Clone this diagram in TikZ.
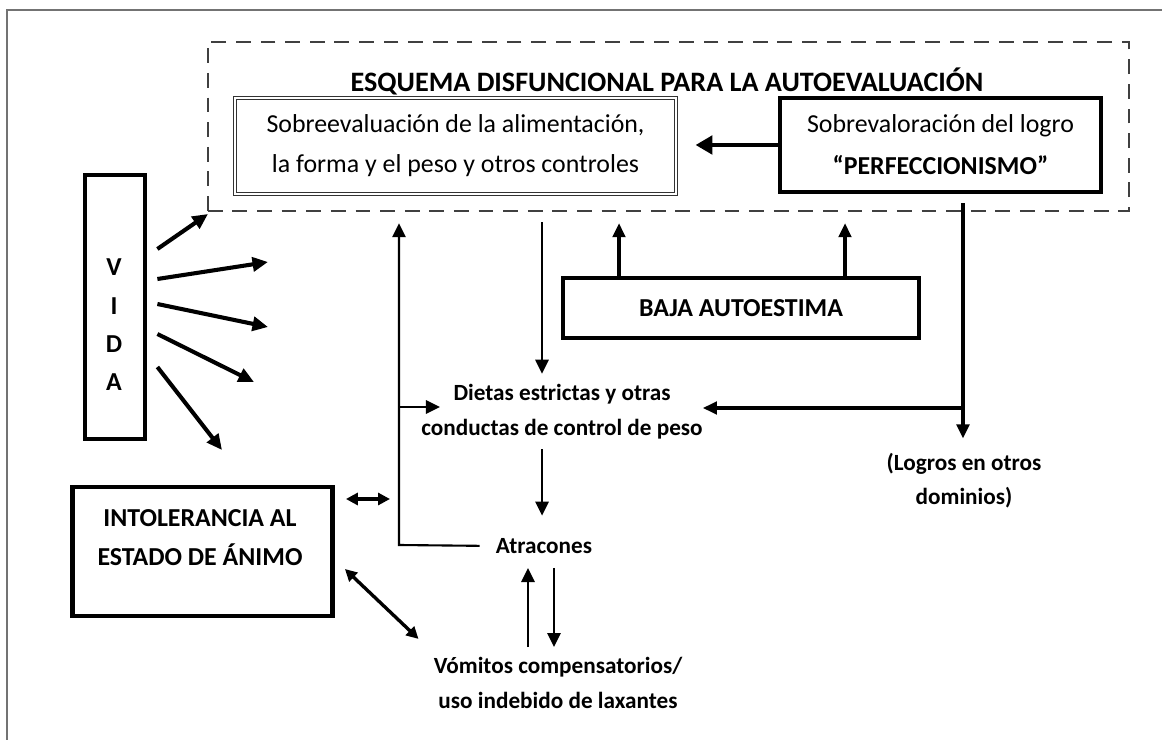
\documentclass[tikz,border=0pt]{standalone}
\usepackage{fontspec}
\setmainfont{Carlito}
\usetikzlibrary{arrows.meta}

\newcommand\titlefont{\fontsize{20}{24}\selectfont\bfseries}
\newcommand\boxfont{\fontsize{18.4}{28.5}\selectfont}
\newcommand\tagfont{\fontsize{16.5}{25}\selectfont\bfseries}

\tikzset{
  frameline/.style={draw=black!55, line width=1pt},
  groupbox/.style={draw=black!75, line width=1.7pt, dash pattern=on 10.5pt off 7pt,
    minimum width=23.025cm, minimum height=4.225cm, inner sep=0pt},
  sobrebox/.style={draw=black!80, double, double distance=1.6pt, line width=0.7pt,
    minimum width=11.025cm, minimum height=2.4cm, align=center, font=\boxfont},
  thickbox/.style={draw, line width=3.4pt, align=center, inner sep=0pt},
  tag/.style={align=center, inner sep=0pt, font=\tagfont},
  thinarrow/.style={-{Triangle[length=10pt,width=9.5pt]}, line width=1.5pt},
  midarrow/.style={-{Triangle[length=10pt,width=9pt]}, line width=2.3pt},
  fatarrow/.style={-{Triangle[length=11pt,width=10pt]}, line width=2.9pt},
  dblarrow/.style={{Triangle[length=8.5pt,width=8.5pt]}-{Triangle[length=8.5pt,width=8.5pt]},
    line width=2.4pt},
}

\begin{document}
\begin{tikzpicture}[x=0.025cm, y=-0.025cm]

  \useasboundingbox (0,0) rectangle (1162,740);

  %% Page frame (top and left only).
  \draw[frameline] (1162,10) -- (7,10) -- (7,740);


  %% Dashed group with the title and its two boxes.
  \node[groupbox] (esquema) at (668.5,126.5) {};
  \node[font=\titlefont, inner sep=0pt] (titulo) at (667,81)
  {ESQUEMA DISFUNCIONAL PARA LA AUTOEVALUACIÓN};
  \node[sobrebox] (sobre) at (455.5,146)
  {Sobreevaluación de la alimentación,\\la forma y el peso y otros controles};
  \node[thickbox, minimum width=8.025cm, minimum height=2.35cm,
    font=\fontsize{18.4}{30}\selectfont] (perfec) at (940.5,145)
  {Sobrevaloración del logro\\\textbf{“PERFECCIONISMO”}};


  %% Boxes outside the group.
  \node[thickbox, minimum width=1.5cm, minimum height=6.6cm] (vida) at (115,307) {};
  \node[align=center, inner sep=0pt, font=\fontsize{18.4}{27.3}\selectfont\bfseries]
  (vidatxt) at (114,325) {V\\I\\D\\A};

  \node[thickbox, minimum width=6.5cm, minimum height=3.225cm] (intol) at (202.5,551.5) {};
  \node[align=center, inner sep=0pt, font=\fontsize{18.4}{27.7}\selectfont\bfseries]
  (intoltxt) at (200,537.5) {INTOLERANCIA AL\\ESTADO DE ÁNIMO};

  \node[thickbox, minimum width=8.9cm, minimum height=1.5cm,
    font=\fontsize{18.4}{22}\selectfont\bfseries] (baja) at (741,308) {BAJA AUTOESTIMA};


  %% Free labels.
  \node[tag] (dietas) at (562,412) {Dietas estrictas y otras\\conductas de control de peso};
  \node[tag] (atracones) at (544,546) {Atracones};
  \node[tag] (vomitos) at (558,683) {Vómitos compensatorios/\\uso indebido de laxantes};
  \node[tag, font=\fontsize{16.5}{24}\selectfont\bfseries] (logros) at (964,481)
  {(Logros en otros\\dominios)};


  %% VIDA fan of arrows.
  \foreach \n/\dy/\ex/\ey in {1/-58/208/214, 2/-28/268/262, 3/-3/268/327,
    4/27/254/382, 5/60/222/450}
  \draw[fatarrow] ([shift={(10,\dy)}]vida.east) -- (\ex,\ey) coordinate (vidaend\n);


  %% Perfeccionismo feeds the overvaluation box.
  \draw[fatarrow, line width=3.4pt, {-Triangle[length=12pt,width=13pt]}, shorten >=13.5pt]
  (perfec.west) -- (sobre.east |- perfec.west);


  %% Low self-esteem up into the group.
  \draw[midarrow, shorten >=7.8pt] (baja.north -| 619,0) -- (esquema.south -| 619,0);
  \draw[midarrow, shorten >=7.8pt] (baja.north -| 845,0) -- (esquema.south -| 845,0);


  %% Group down to the diets.
  \draw[thinarrow, shorten <=7pt, shorten >=7.5pt]
  (esquema.south -| 542,0) -- (dietas.north -| 542,0);
  \draw[thinarrow, shorten <=6.8pt, shorten >=16pt]
  (dietas.south -| 542,0) -- (atracones.north -| 542,0);


  %% Binges loop back up into the group and into the diets.
  \coordinate (codo) at (399,545);
  \draw[thinarrow, shorten <=11.4pt, shorten >=7.8pt]
  (atracones.west) -- (codo) -- (codo |- esquema.south);
  \draw[thinarrow] (codo |- 0,407) -- (440,407);


  %% Binges and compensatory behaviour.
  \draw[thinarrow, shorten <=7pt, shorten >=10pt]
  (vomitos.north -| 528,0) -- (atracones.south -| 528,0);
  \draw[thinarrow, shorten <=10pt, shorten >=7pt]
  (atracones.south -| 554,0) -- (vomitos.north -| 554,0);


  %% Perfectionism down to other domains, branch to the diets.
  \coordinate (rama) at (963,408);
  \draw[midarrow, shorten <=6.4pt, shorten >=10.7pt]
  (perfec.south -| rama) -- (logros.north -| rama);
  \draw[midarrow] (rama) -- (dietas.east |- rama);


  %% Mood intolerance links.
  \draw[dblarrow, shorten <=7.8pt, shorten >=6.4pt] (intol.east |- 0,499) -- (codo |- 0,499);
  \draw[dblarrow] ([shift={(10,17.5)}]intol.east) -- ([shift={(-15,-18)}]vomitos.north west);

\end{tikzpicture}
\end{document}
